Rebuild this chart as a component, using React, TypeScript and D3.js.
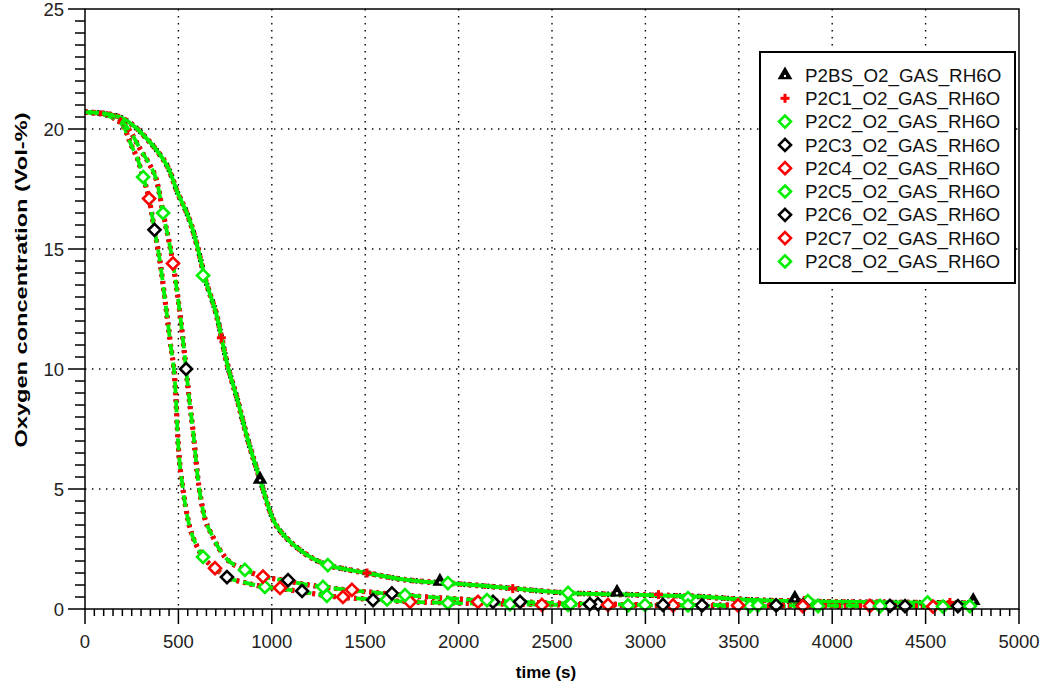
import React from "react";
import * as d3 from "d3";

// ---------- data ----------
const seriesNames = [
  "P2BS_O2_GAS_RH6O",
  "P2C1_O2_GAS_RH6O",
  "P2C2_O2_GAS_RH6O",
  "P2C3_O2_GAS_RH6O",
  "P2C4_O2_GAS_RH6O",
  "P2C5_O2_GAS_RH6O",
  "P2C6_O2_GAS_RH6O",
  "P2C7_O2_GAS_RH6O",
  "P2C8_O2_GAS_RH6O",
];

// slow curve (P2BS, P2C1, P2C2)
const slowTime = [0, 100, 200, 280, 330, 385, 450, 498, 540, 573, 605, 642, 706, 760, 813, 870, 937, 1006, 1080, 1151, 1220, 1300, 1400, 1510, 1686, 1800, 1938, 2200, 2580, 2900, 3330, 3520, 4000, 4400, 4760];
const slowO2 = [20.7, 20.65, 20.45, 20.0, 19.6, 19.1, 18.3, 17.3, 16.6, 15.9, 15.0, 13.8, 12.2, 10.25, 8.8, 7.1, 5.4, 3.75, 2.95, 2.46, 2.1, 1.83, 1.65, 1.5, 1.25, 1.15, 1.08, 0.92, 0.67, 0.6, 0.5, 0.4, 0.3, 0.27, 0.25];

// fast curve A (P2C3, P2C4, P2C5)
const fastATime = [0, 100, 198, 252, 284, 311, 343, 372, 401, 428, 455, 482, 500, 525, 552, 600, 632, 696, 760, 846, 963, 1044, 1162, 1295, 1542, 1740, 2000, 2446, 3000, 3500, 4000, 4500, 4760];
const fastAO2 = [20.7, 20.6, 20.2, 19.25, 18.7, 18.0, 17.1, 15.8, 14.5, 12.9, 11.2, 9.4, 6.75, 4.96, 3.7, 2.6, 2.17, 1.7, 1.33, 1.12, 0.92, 0.85, 0.72, 0.55, 0.4, 0.3, 0.25, 0.18, 0.15, 0.12, 0.12, 0.1, 0.1];

// fast curve B (P2C6, P2C7, P2C8)
const fastBTime = [0, 100, 200, 250, 300, 340, 385, 418, 471, 510, 541, 560, 578, 605, 632, 685, 749, 856, 953, 1060, 1200, 1429, 1643, 2000, 2329, 2800, 3300, 3800, 4300, 4760];
const fastBO2 = [20.7, 20.65, 20.3, 19.8, 19.1, 18.6, 17.8, 16.5, 14.4, 12.2, 10.0, 8.6, 7.45, 5.4, 4.1, 3.0, 2.17, 1.63, 1.35, 1.2, 1.0, 0.78, 0.62, 0.42, 0.3, 0.2, 0.17, 0.15, 0.13, 0.12];

// marker points [time, O2]
const markersP2BS = [[937, 5.4], [1900, 1.15], [2848, 0.7], [3800, 0.45], [4755, 0.35]];
const markersP2C1 = [[730, 11.3], [1510, 1.5], [2290, 0.85], [3070, 0.6], [3850, 0.35], [4630, 0.27]];
const markersP2C2 = [[632, 13.9], [1300, 1.83], [1943, 1.08], [2586, 0.67], [3228, 0.45], [3870, 0.33], [4510, 0.27]];
const markersP2C3 = [[372, 15.8], [760, 1.33], [1162, 0.75], [1542, 0.37], [2184, 0.3], [2746, 0.2], [3303, 0.15], [3843, 0.15], [4390, 0.12]];
const markersP2C4 = [[343, 17.1], [696, 1.7], [1044, 0.88], [1381, 0.5], [1740, 0.3], [2446, 0.17], [3148, 0.15], [3843, 0.12], [4540, 0.1]];
const markersP2C5 = [[311, 18.0], [632, 2.17], [963, 0.92], [1295, 0.55], [1617, 0.4], [1943, 0.25], [2275, 0.2], [2586, 0.17], [2907, 0.15], [3228, 0.15], [3560, 0.12], [3924, 0.12], [4256, 0.12], [4593, 0.1]];
const markersP2C6 = [[541, 10.0], [1087, 1.2], [1643, 0.65], [2329, 0.3], [2703, 0.2], [3094, 0.17], [3700, 0.15], [4309, 0.13], [4673, 0.12]];
const markersP2C7 = [[471, 14.4], [953, 1.35], [1429, 0.8], [2104, 0.3], [2800, 0.17], [3496, 0.15], [4202, 0.13]];
const markersP2C8 = [[418, 16.5], [856, 1.63], [1274, 0.92], [1713, 0.58], [2152, 0.37], [2600, 0.22], [2998, 0.17], [3603, 0.15], [4256, 0.12], [4737, 0.12]];

const xTicks = [0, 500, 1000, 1500, 2000, 2500, 3000, 3500, 4000, 4500, 5000];
const yTicks = [0, 5, 10, 15, 20, 25];

// ---------- layout ----------
const W = 1043;
const H = 684;
const L = 85, R = 1019, T = 9, B = 609;

const BLACK = "#000000";
const RED = "#ff0000";
const GREEN = "#00ee00";

type Series = {
  name: string;
  color: string;
  marker: "triangle" | "plus" | "diamond";
  time: number[];
  o2: number[];
  markers: number[][];
  width: number;
  dash: string | null;
};

const series: Series[] = [
  { name: seriesNames[0], color: BLACK, marker: "triangle", time: slowTime, o2: slowO2, markers: markersP2BS, width: 5.5, dash: "2 4" },
  { name: seriesNames[1], color: RED, marker: "plus", time: slowTime, o2: slowO2, markers: markersP2C1, width: 5.5, dash: "3 5" },
  { name: seriesNames[2], color: GREEN, marker: "diamond", time: slowTime, o2: slowO2, markers: markersP2C2, width: 4, dash: null },
  { name: seriesNames[3], color: BLACK, marker: "diamond", time: fastATime, o2: fastAO2, markers: markersP2C3, width: 5, dash: "2 5" },
  { name: seriesNames[4], color: RED, marker: "diamond", time: fastATime, o2: fastAO2, markers: markersP2C4, width: 5, dash: "3 4" },
  { name: seriesNames[5], color: GREEN, marker: "diamond", time: fastATime, o2: fastAO2, markers: markersP2C5, width: 3.8, dash: "12 7" },
  { name: seriesNames[6], color: BLACK, marker: "diamond", time: fastBTime, o2: fastBO2, markers: markersP2C6, width: 5, dash: "2 5" },
  { name: seriesNames[7], color: RED, marker: "diamond", time: fastBTime, o2: fastBO2, markers: markersP2C7, width: 5, dash: "3 4" },
  { name: seriesNames[8], color: GREEN, marker: "diamond", time: fastBTime, o2: fastBO2, markers: markersP2C8, width: 3.8, dash: "12 7" },
];

const x = d3.scaleLinear().domain([0, 5000]).range([L, R]);
const y = d3.scaleLinear().domain([0, 25]).range([B, T]);

const FONT = "'Liberation Sans', Arial, sans-serif";

function Marker({ kind, color, cx, cy }: { kind: string; color: string; cx: number; cy: number }) {
  if (kind === "triangle") {
    const p = d3.symbol().type(d3.symbolTriangle).size(95)();
    return (
      <g transform={`translate(${cx},${cy})`}>
        <path d={p || ""} fill={color} />
        <circle r={1.2} fill="#fff" cy={1} />
      </g>
    );
  }
  if (kind === "plus") {
    return (
      <g transform={`translate(${cx},${cy})`} stroke={color} strokeWidth={3}>
        <line x1={-4.5} x2={4.5} y1={0} y2={0} />
        <line x1={0} x2={0} y1={-4.5} y2={4.5} />
      </g>
    );
  }
  const s = 6;
  return (
    <g transform={`translate(${cx},${cy})`}>
      <path d={`M0,${-s}L${s},0L0,${s}L${-s},0Z`} fill="#fff" stroke={color} strokeWidth={2.6} />
    </g>
  );
}

export default function App() {
  const minorX = d3.range(0, 5001, 50).filter((v) => v % 500 !== 0);
  const minorY = d3.range(0, 25.01, 0.5).filter((v) => Math.abs(v % 5) > 1e-6);

  const lineGen = (s: Series) =>
    d3
      .line<number>()
      .x((_, i) => x(s.time[i]))
      .y((_, i) => y(s.o2[i]))
      .curve(d3.curveMonotoneX)(s.time) || "";

  const legX = 760, legY = 52, legW = 255, legH = 231;
  const rowStep = 23.3;

  return (
    <svg width={W} height={H} style={{ position: "absolute", left: 0, top: 0, background: "#fff" }} fontFamily={FONT}>
      <rect x={0} y={0} width={W} height={H} fill="#fff" />
      {/* grid */}
      <g stroke="#000" strokeWidth={1.4} strokeDasharray="1.4 5.6">
        {xTicks.filter((t) => t > 0 && t < 5000).map((t) => (
          <line key={"gx" + t} x1={x(t)} x2={x(t)} y1={T} y2={B} />
        ))}
        {yTicks.filter((t) => t > 0 && t < 25).map((t) => (
          <line key={"gy" + t} x1={L} x2={R} y1={y(t)} y2={y(t)} />
        ))}
      </g>

      {/* lines */}
      <g fill="none" strokeLinejoin="round">
        {series.map((s) => (
          <path key={"l" + s.name} d={lineGen(s)} stroke={s.color} strokeWidth={s.width} strokeDasharray={s.dash || undefined} />
        ))}
      </g>

      {/* markers */}
      {series.map((s) => (
        <g key={"m" + s.name}>
          {s.markers.map((m, i) => (
            <Marker key={i} kind={s.marker} color={s.color} cx={x(m[0])} cy={y(m[1])} />
          ))}
        </g>
      ))}

      {/* frame */}
      <rect x={L} y={T} width={R - L} height={B - T} fill="none" stroke="#000" strokeWidth={1.5} />

      {/* ticks */}
      <g stroke="#000" strokeWidth={1.5}>
        {xTicks.map((t) => (
          <line key={"xt" + t} x1={x(t)} x2={x(t)} y1={B} y2={B + 15} />
        ))}
        {minorX.map((t) => (
          <line key={"xm" + t} x1={x(t)} x2={x(t)} y1={B} y2={B + 7} />
        ))}
        {yTicks.map((t) => (
          <line key={"yt" + t} x1={L - 17} x2={L} y1={y(t)} y2={y(t)} />
        ))}
        {minorY.map((t) => (
          <line key={"ym" + t} x1={L - 10} x2={L} y1={y(t)} y2={y(t)} />
        ))}
      </g>

      {/* tick labels */}
      <g fill="#222" fontSize={18.5}>
        {xTicks.map((t) => (
          <text key={"xl" + t} x={x(t)} y={648} textAnchor="middle">
            {t}
          </text>
        ))}
        {yTicks.map((t) => (
          <text key={"yl" + t} x={64} y={y(t) + 6.5} textAnchor="end">
            {t}
          </text>
        ))}
      </g>

      {/* axis titles */}
      <text x={546} y={678} textAnchor="middle" fontWeight="bold" fontSize={17} fill="#000">
        time (s)
      </text>
      <text
        transform={`translate(27,280) rotate(-90)`}
        textAnchor="middle"
        fontWeight="bold"
        fontSize={17}
        fill="#000"
        textLength={335}
        lengthAdjust="spacingAndGlyphs"
      >
        Oxygen concentration (Vol-%)
      </text>

      {/* legend */}
      <rect x={legX} y={legY} width={legW} height={legH} fill="#fff" stroke="#000" strokeWidth={2} />
      {series.map((s, i) => {
        const cy = 75 + i * rowStep;
        return (
          <g key={"lg" + s.name}>
            <Marker kind={s.marker} color={s.color} cx={785} cy={cy} />
            <text x={805} y={cy + 6.6} fontSize={18.8} fill="#111">
              {s.name}
            </text>
          </g>
        );
      })}
    </svg>
  );
}
